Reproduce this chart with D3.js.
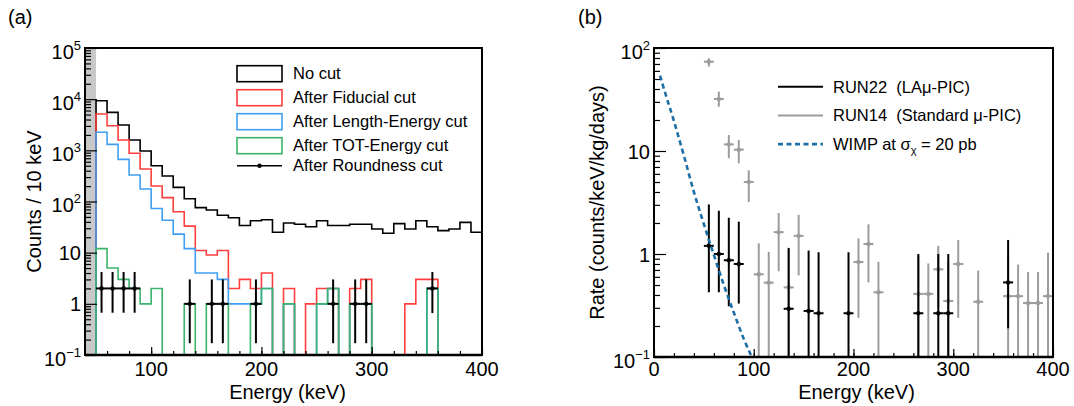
<!DOCTYPE html>
<html>
<head>
<meta charset="utf-8">
<script src="https://cdn.jsdelivr.net/npm/d3@7"></script>
<style>
  html, body { margin: 0; padding: 0; background: #fff; }
  svg { display: block; }
  .pre { white-space: pre; }
</style>
</head>
<body>
<div id="chart"></div>
<script>
// ============================================================
// Data — panel (a): counts per 10 keV bin (bin low edges)
// ============================================================

const binStart = [40, 50, 60, 70, 80, 90, 100, 110, 120, 130, 140, 150, 160, 170, 180, 190, 200, 210,
                  220, 230, 240, 250, 260, 270, 280, 290, 300, 310, 320, 330, 340, 350, 360, 370, 380, 390];

const noCut    = [0, 9300, 5530, 3130, 1590, 970, 500, 315, 189, 113, 76, 68, 54, 48, 34, 42, 44, 25,
                  38, 36, 32, 42, 34, 34, 36, 36, 29, 24, 37, 29, 42, 32, 27, 29, 39, 25];
const fiducial = [0, 5130, 3030, 1590, 875, 431, 201, 119, 63, 33, 11, 9, 11, 2, 3, 2, 4, 0,
                  2, 0, 1, 2, 2, 0, 2, 3, 0, 0, 0, 1, 3, 3, 0, 0, 0, 0];
const lengthE  = [0, 2250, 1310, 667, 330, 175, 73, 43, 23, 12, 4, 4, 3, 1, 1, 1, 2, 0,
                  1, 0, 0, 1, 2, 0, 1, 1, 0, 0, 0, 0, 0, 2, 0, 0, 0, 0];
const totE     = [0, 12, 5, 3, 2, 1, 2, 0, 0, 1, 0, 1, 1, 0, 0, 1, 2, 0,
                  1, 0, 0, 1, 2, 0, 1, 1, 0, 0, 0, 0, 0, 2, 0, 0, 0, 0];

const roundE  = [55, 65, 75, 85, 135, 155, 165, 195, 265, 285, 295, 355];
const roundN  = [2, 2, 2, 2, 1, 1, 1, 1, 1, 1, 1, 2];
const roundLo = [0.67, 0.67, 0.67, 0.67, 0.17, 0.17, 0.17, 0.17, 0.17, 0.17, 0.17, 0.66];
const roundHi = [4.2, 4.2, 4.2, 4.2, 3.0, 3.0, 3.0, 3.0, 3.0, 3.0, 3.0, 4.2];

const legendA = ["No cut", "After Fiducial cut", "After Length-Energy cut", "After TOT-Energy cut", "After Roundness cut"];

// ============================================================
// Data — panel (b): rate spectra
// ============================================================

const run22E    = [55, 65, 75, 85, 135, 155, 165, 195, 265, 285, 295, 355];
const run22Rate = [1.20, 1.0, 0.87, 0.80, 0.294, 0.28, 0.266, 0.266, 0.266, 0.266, 0.266, 0.53];
const run22Hi   = [3.03, 2.63, 2.25, 2.06, 1.14, 1.08, 1.04, 1.04, 1.0, 1.0, 1.0, 1.37];
const run22Lo   = [0.425, 0.425, 0.31, 0.33, 0.1, 0.1, 0.1, 0.1, 0.1, 0.1, 0.1, 0.19];

const run14E    = [55, 65, 75, 85, 95, 105, 115, 125, 135, 145, 205, 215, 225, 265, 275, 285, 295, 305, 325, 355, 365, 375, 385, 395];
const run14Rate = [73.6, 32, 11.6, 10.3, 5.0, 0.635, 0.527, 1.63, 0.474, 1.50, 0.836, 1.25, 0.425, 0.41, 0.41, 0.71, 0.35, 0.80, 0.344, 0.39, 0.39, 0.334, 0.334, 0.39];
const run14Hi   = [79.7, 37.7, 14.3, 12.8, 6.5, 1.27, 1.05, 2.5, 1.15, 2.4, 1.42, 1.94, 0.84, 0.95, 0.81, 1.2, 0.85, 1.37, 0.69, 0.95, 0.79, 0.67, 0.67, 1.03];
const run14Lo   = [65.9, 26.9, 8.5, 7.6, 3.2, 0.1, 0.1, 0.68, 0.1, 0.62, 0.24, 0.53, 0.1, 0.1, 0.1, 0.3, 0.1, 0.24, 0.1, 0.1, 0.1, 0.1, 0.1, 0.1];

const wimpE    = [6, 10, 20, 30, 40, 50, 60, 70, 80, 90, 98];
const wimpRate = [54, 40, 19.5, 9.0, 4.0, 1.95, 0.98, 0.5, 0.27, 0.15, 0.1];

const legendB = ["RUN22  (LA\u03bc-PIC)", "RUN14  (Standard \u03bc-PIC)", "WIMP at \u03c3"];

// ============================================================
// Style
// ============================================================

const FONT = "'Liberation Sans', Arial, Helvetica, sans-serif";
const COLORS = {
  black: "#000",
  red:   "#ff3e3e",
  blue:  "#3f9ff2",
  green: "#3bb36d",
  gray:  "#9c9c9c",
  shade: "#c8c8c8",
  wimp:  "#1d6ea5",
};

const W = 1074, H = 406;
const TICK_Y = 376;   // baseline of x tick labels
const TITLE_Y = 399;  // baseline of x axis titles

const svg = d3.select("#chart").append("svg")
  .attr("width", W).attr("height", H)
  .attr("font-family", FONT);

// ============================================================
// Helpers
// ============================================================

function yLabel(g, x, y, v) {
  const e = Math.round(Math.log10(v));
  const t = g.append("text").attr("x", x).attr("text-anchor", "end")
    .attr("font-size", 20).attr("fill", "#000");
  if (e === 0 || e === 1) {
    t.attr("y", y + 7.5).text(e === 0 ? "1" : "10");
  } else {
    t.attr("y", y + 10.5).text("10");
    t.append("tspan").attr("font-size", 13).attr("dy", -9)
      .text(e < 0 ? "\u2212" + (-e) : String(e));
  }
}

function drawAxes(g, x, y, box, xMajor, xMinor) {
  const all = y.ticks();
  const yMajor = all.filter(v => Math.abs(Math.log10(v) - Math.round(Math.log10(v))) < 1e-9);
  const yMinor = all.filter(v => !yMajor.includes(v));

  g.append("g").attr("transform", `translate(${box.left},0)`)
    .call(d3.axisLeft(y).tickValues(yMinor).tickSize(-6).tickSizeOuter(0).tickFormat(""));
  g.append("g").attr("transform", `translate(${box.left},0)`)
    .call(d3.axisLeft(y).tickValues(yMajor).tickSize(-12).tickSizeOuter(0).tickFormat(""));
  g.append("g").attr("transform", `translate(0,${box.bottom})`)
    .call(d3.axisBottom(x).tickValues(xMinor).tickSize(-4).tickSizeOuter(0).tickFormat(""));
  g.append("g").attr("transform", `translate(0,${box.bottom})`)
    .call(d3.axisBottom(x).tickValues(xMajor).tickSize(-8).tickSizeOuter(0).tickFormat(""));
  g.selectAll(".tick line").attr("stroke", "#000").attr("stroke-width", 1.2);
  g.selectAll(".domain").remove();

  // frame
  g.append("rect")
    .attr("x", box.left).attr("y", box.top)
    .attr("width", box.right - box.left).attr("height", box.bottom - box.top)
    .attr("fill", "none").attr("stroke", "#000").attr("stroke-width", 2);
  g.append("line")
    .attr("x1", box.left).attr("x2", box.right)
    .attr("y1", box.bottom).attr("y2", box.bottom)
    .attr("stroke", "#000").attr("stroke-width", 2.6);

  yMajor.forEach(v => yLabel(g, box.left - 4, y(v), v));
  xMajor.forEach(v => {
    g.append("text").attr("x", x(v)).attr("y", TICK_Y)
      .attr("text-anchor", "middle").attr("font-size", 20).text(v);
  });
}

function errorPoints(g, x, y, es, vs, los, his, color, yMin) {
  es.forEach((e, i) => {
    const yc = y(vs[i]);
    g.append("line").attr("x1", x(e)).attr("x2", x(e))
      .attr("y1", y(his[i])).attr("y2", y(Math.max(los[i], yMin)))
      .attr("stroke", color).attr("stroke-width", 2);
    g.append("line").attr("x1", x(e - 5)).attr("x2", x(e + 5))
      .attr("y1", yc).attr("y2", yc)
      .attr("stroke", color).attr("stroke-width", 2);
    g.append("circle").attr("cx", x(e)).attr("cy", yc).attr("r", 2.2).attr("fill", color);
  });
}

// ============================================================
// Panel (a)
// ============================================================

const A = { left: 85, right: 482, top: 48, bottom: 355 };
const xA = d3.scaleLinear().domain([40, 400]).range([A.left, A.right]);
const yA = d3.scaleLog().domain([0.1, 1e5]).range([A.bottom, A.top]);
const yvA = v => yA(Math.max(v, 0.1));

const gA = svg.append("g");

gA.append("rect")
  .attr("x", xA(40)).attr("y", A.top)
  .attr("width", xA(50) - xA(40)).attr("height", A.bottom - A.top)
  .attr("fill", COLORS.shade);

function histPath(vals) {
  const pts = binStart.map((e, i) => [xA(e), yvA(vals[i])]);
  pts.push([xA(400), yvA(vals[vals.length - 1])]);
  return d3.line().curve(d3.curveStepAfter)(pts);
}

const histos = [
  { vals: noCut,    color: COLORS.black },
  { vals: fiducial, color: COLORS.red },
  { vals: lengthE,  color: COLORS.blue },
  { vals: totE,     color: COLORS.green },
];

gA.selectAll("path.hist")
  .data(histos)
  .join("path")
  .attr("class", "hist")
  .attr("d", d => histPath(d.vals))
  .attr("fill", "none")
  .attr("stroke", d => d.color)
  .attr("stroke-width", 1.6);

errorPoints(gA, xA, yA, roundE, roundN, roundLo, roundHi, COLORS.black, 0.1);

drawAxes(gA, xA, yA, A, [100, 200, 300, 400], d3.range(60, 400, 20));

// legend (a)
const legA = gA.append("g");
legendA.forEach((label, i) => {
  const cy = 73.7 + i * 24;
  if (i < 4) {
    legA.append("rect")
      .attr("x", 237).attr("y", cy - 8)
      .attr("width", 45).attr("height", 16)
      .attr("fill", "none")
      .attr("stroke", histos[i].color).attr("stroke-width", 1.6);
  } else {
    legA.append("line").attr("x1", 237).attr("x2", 282)
      .attr("y1", cy - 4).attr("y2", cy - 4)
      .attr("stroke", "#000").attr("stroke-width", 1.5);
    legA.append("circle").attr("cx", 259.5).attr("cy", cy - 4).attr("r", 2.2).attr("fill", "#000");
  }
  legA.append("text").attr("x", 293).attr("y", cy + 5.5 - (i === 4 ? 4 : 0))
    .attr("font-size", 16.5).text(label);
});

gA.append("text").attr("x", (A.left + A.right) / 2 + 4).attr("y", TITLE_Y)
  .attr("text-anchor", "middle").attr("font-size", 20).text("Energy (keV)");
gA.append("text")
  .attr("transform", `translate(41,${(A.top + A.bottom) / 2}) rotate(-90)`)
  .attr("text-anchor", "middle").attr("font-size", 20).text("Counts / 10 keV");
gA.append("text").attr("x", 8).attr("y", 24).attr("font-size", 20).text("(a)");

// ============================================================
// Panel (b)
// ============================================================

const B = { left: 654, right: 1053, top: 48, bottom: 357 };
const xB = d3.scaleLinear().domain([0, 400]).range([B.left, B.right]);
const yB = d3.scaleLog().domain([0.1, 100]).range([B.bottom, B.top]);

const gB = svg.append("g");

errorPoints(gB, xB, yB, run14E, run14Rate, run14Lo, run14Hi, COLORS.gray, 0.1);
errorPoints(gB, xB, yB, run22E, run22Rate, run22Lo, run22Hi, COLORS.black, 0.1);

gB.append("path")
  .datum(wimpE.map((e, i) => [e, wimpRate[i]]))
  .attr("d", d3.line().curve(d3.curveMonotoneX).x(d => xB(d[0])).y(d => yB(d[1])))
  .attr("fill", "none")
  .attr("stroke", COLORS.wimp)
  .attr("stroke-width", 2.6)
  .attr("stroke-dasharray", "5,3.5");

drawAxes(gB, xB, yB, B, [0, 100, 200, 300, 400], d3.range(20, 400, 20));

// legend (b)
const legB = gB.append("g");
const legendStyle = [
  { color: COLORS.black, dash: null, w: 2 },
  { color: COLORS.gray,  dash: null, w: 2 },
  { color: COLORS.wimp,  dash: "5,3.5", w: 2.6 },
];
legendStyle.forEach((d, i) => {
  const cy = 86.7 + i * 28.7;
  legB.append("line").attr("x1", 778).attr("x2", 823)
    .attr("y1", cy).attr("y2", cy)
    .attr("stroke", d.color).attr("stroke-width", d.w)
    .attr("stroke-dasharray", d.dash);
  const t = legB.append("text").attr("class", "pre")
    .attr("x", 833).attr("y", cy + 6).attr("font-size", 16.5);
  t.append("tspan").text(legendB[i]);
  if (i === 2) {
    t.append("tspan").attr("font-size", 11).attr("dy", 4).text("\u03c7");
    t.append("tspan").attr("dy", -4).text(" = 20 pb");
  }
});

gB.append("text").attr("x", (B.left + B.right) / 2 + 3).attr("y", TITLE_Y)
  .attr("text-anchor", "middle").attr("font-size", 20).text("Energy (keV)");
gB.append("text")
  .attr("transform", `translate(604,${(B.top + B.bottom) / 2}) rotate(-90)`)
  .attr("text-anchor", "middle").attr("font-size", 20).text("Rate (counts/keV/kg/days)");
gB.append("text").attr("x", 578).attr("y", 24).attr("font-size", 20).text("(b)");
</script>
</body>
</html>
